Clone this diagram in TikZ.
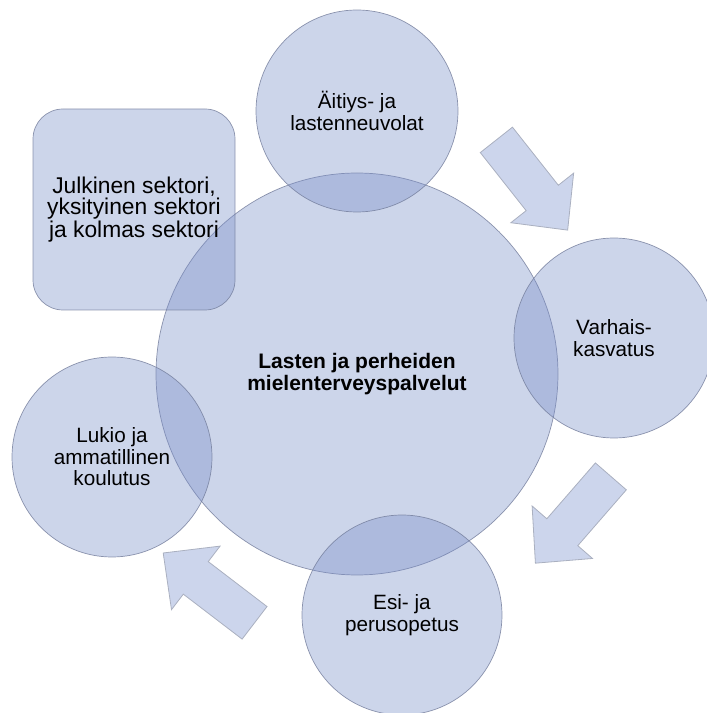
\documentclass[tikz,border=0pt]{standalone}
\usepackage{fontspec}
\setmainfont{Liberation Sans}
\usepackage{tikz}
\usetikzlibrary{calc}

\definecolor{ringfill}{RGB}{118,140,199}
\definecolor{ringline}{RGB}{115,125,155}
\definecolor{arrowfill}{RGB}{204,213,236}
\definecolor{arrowline}{RGB}{170,176,192}

\tikzset{
  bubble/.style={circle, fill=ringfill, fill opacity=0.37, text opacity=1,
    draw=ringline, draw opacity=0.8, line width=0.7pt, align=center,
    inner sep=0pt, font=\fontsize{20.7}{21.5}\selectfont},
  sectorbox/.style={rectangle, rounded corners=30pt, fill=ringfill,
    fill opacity=0.37, text opacity=1, draw=ringline, draw opacity=0.8,
    line width=0.7pt, align=center, inner sep=0pt,
    minimum width=202pt, minimum height=201pt,
    font=\fontsize{22.8}{21}\selectfont},
  pics/cyclearrow/.style={code={
    \draw[fill=arrowfill, draw=arrowline, line width=0.8pt]
      (-57.5,-20.5) -- (16.5,-20.5) -- (16.5,-40) -- (57.5,0)
      -- (16.5,40) -- (16.5,20.5) -- (-57.5,20.5) -- cycle;
  }}
}

\begin{document}
\begin{tikzpicture}[x=1pt,y=1pt]
  \useasboundingbox (0,0) rectangle (707,713);

  \node[bubble, minimum size=402pt, font=\bfseries\fontsize{21}{21.7}\selectfont]
    (hub) at (357,339) {Lasten ja perheiden\\mielenterveyspalvelut};

  \node[sectorbox] (sektorit) at (134,503.5)
    {Julkinen sektori,\\yksityinen sektori\\ja kolmas sektori};

  \node[bubble, minimum size=202pt] (neuvolat) at (357,602) {Äitiys- ja\\lastenneuvolat};
  \node[bubble, minimum size=200pt] (varhais) at (614,375) {Varhais-\\kasvatus};
  \node[bubble, minimum size=200pt] (esiopetus) at (402,98) {Esi- ja\\perusopetus};
  \node[bubble, minimum size=200pt] (lukio) at (112,256) {Lukio ja\\ammatillinen\\koulutus};

  % block arrows on the outer ring
  \pic[rotate=-51.7] at ($(hub.center)+(47.2:257.6)$) {cyclearrow};
  \pic[rotate=-131] at ($(hub.center)+(-34:260.7)$) {cyclearrow};
  \pic[rotate=142.6] at ($(hub.center)+(-124.7:260.2)$) {cyclearrow};
\end{tikzpicture}
\end{document}
